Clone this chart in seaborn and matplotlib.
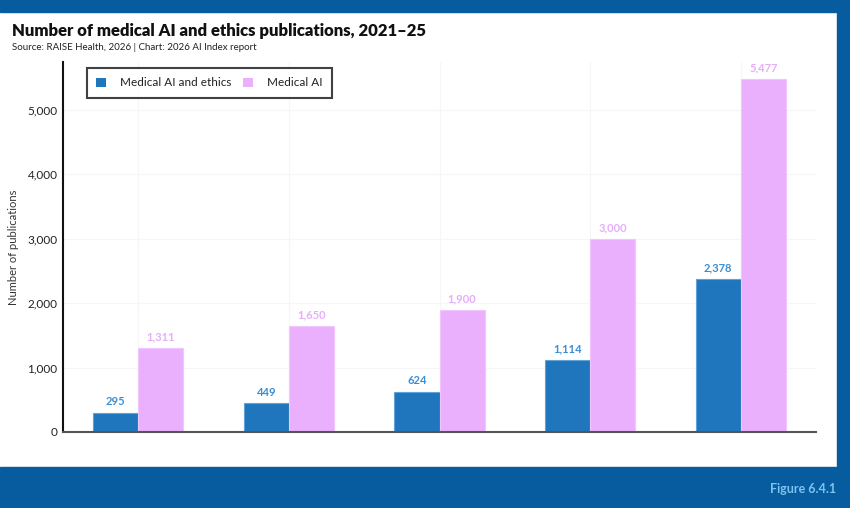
import matplotlib
matplotlib.use("Agg")
import matplotlib.pyplot as plt
import seaborn as sns
import pandas as pd
from matplotlib.patches import Rectangle
from matplotlib.ticker import FuncFormatter

years = ["2021", "2022", "2023", "2024", "2025"]
series_names = ["Medical AI and ethics", "Medical AI"]
ethics_vals = [295, 449, 624, 1114, 2378]
medical_vals = [1311, 1650, 1900, 3000, 5477]

colors = {"Medical AI and ethics": "#1f76bd", "Medical AI": "#eab0fd"}
label_colors = {"Medical AI and ethics": "#3a8ed4", "Medical AI": "#e6adfb"}

df = pd.DataFrame({
    "year": years * 2,
    "series": [series_names[0]] * 5 + [series_names[1]] * 5,
    "value": ethics_vals + medical_vals,
})

sns.set_theme(style="white")
plt.rcParams["font.family"] = ["Lato", "DejaVu Sans"]

W, H = 850, 508
fig = plt.figure(figsize=(W / 100, H / 100), dpi=100)
fig.patch.set_facecolor("white")

frame = "#065c9e"
fig.add_artist(Rectangle((0, 1 - 12 / H), 1, 12 / H, transform=fig.transFigure, color=frame, zorder=0))
fig.add_artist(Rectangle((837 / W, 0), 13 / W, 1, transform=fig.transFigure, color=frame, zorder=0))
fig.add_artist(Rectangle((0, 0), 1, 41 / H, transform=fig.transFigure, color=frame, zorder=0))

ax = fig.add_axes([63 / W, (H - 432) / H, (816 - 63) / W, (432 - 62) / H])
ax.set_facecolor("none")

sns.barplot(data=df, x="year", y="value", hue="series", hue_order=series_names,
            palette=colors, width=0.6, ax=ax, saturation=1, legend=True,
            linewidth=0.8, edgecolor="none")

for cont, name in zip(ax.containers, series_names):
    for bar in cont:
        bar.set_edgecolor("#5fa3d8" if name == series_names[0] else "#f0c6fe")
        bar.set_linewidth(0.8)
    ax.bar_label(cont, labels=[f"{v:,.0f}" for v in cont.datavalues], padding=4,
                 fontsize=8, color=label_colors[name], fontweight="bold")

ax.set_ylim(0, 5745)
ax.set_xlim(-0.5, 4.5)
ax.set_yticks([0, 1000, 2000, 3000, 4000, 5000])
ax.yaxis.set_major_formatter(FuncFormatter(lambda v, p: f"{v:,.0f}"))
ax.tick_params(axis="y", labelsize=8.5, colors="#222222", length=0, pad=4)
ax.set_xticklabels([])
ax.tick_params(axis="x", length=0)
ax.set_xlabel("")
ax.set_ylabel("Number of publications", fontsize=8, color="#333333", labelpad=6)

ax.grid(True, axis="both", color="#f6f6f6", linewidth=0.8)
ax.set_axisbelow(True)
for s in ["top", "right"]:
    ax.spines[s].set_visible(False)
ax.spines["left"].set_color("#111111")
ax.spines["left"].set_linewidth(1.5)
ax.spines["bottom"].set_color("#555555")
ax.spines["bottom"].set_linewidth(1.5)

leg = ax.legend(loc="upper left", bbox_to_anchor=((87 - 63) / (816 - 63), 1 - (68 - 62) / (432 - 62)),
                ncol=2, frameon=True, fontsize=8.5, handlelength=0.8, handleheight=0.8,
                columnspacing=1.0, handletextpad=1.2, borderpad=0.8, fancybox=False,
                borderaxespad=0)
leg.get_frame().set_edgecolor("#111111")
leg.get_frame().set_linewidth(1.5)
for t in leg.get_texts():
    t.set_color("#222222")

fig.text(12 / W, 1 - 36 / H, "Number of medical AI and ethics publications, 2021\u201325",
         fontsize=12, fontweight="heavy", color="#111111", va="baseline")
fig.text(12 / W, 1 - 50 / H, "Source: RAISE Health, 2026 | Chart: 2026 AI Index report",
         fontsize=7, color="#222222", va="baseline")
fig.text(836 / W, 1 - 493 / H, "Figure 6.4.1", fontsize=9, fontweight="bold",
         color="#7cc3ef", ha="right", va="baseline")

fig.savefig("out.png", dpi=100, facecolor=fig.get_facecolor())
